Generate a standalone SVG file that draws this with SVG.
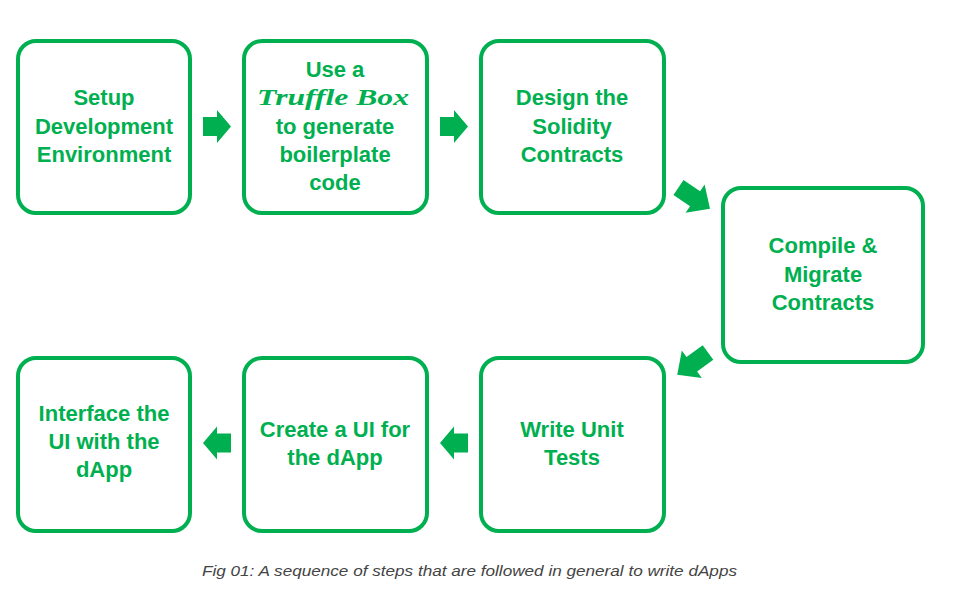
<svg xmlns="http://www.w3.org/2000/svg" width="966" height="599" viewBox="0 0 966 599">
<style>
.box{fill:#fff;stroke:#00B050;stroke-width:4}
.t{font-family:"Liberation Sans",Arial,sans-serif;font-weight:bold;font-size:22px;fill:#00B050;text-anchor:middle}
.m{font-family:"Liberation Serif","DejaVu Serif",serif;font-style:italic;font-weight:bold;font-size:24px;fill:#00B050;text-anchor:middle}
.arr{fill:#00B050}
.cap{font-family:"Liberation Sans",Arial,sans-serif;font-style:italic;font-size:15px;fill:#444}
</style>
<defs>
<path id="ah" d="M0,-9.5 H14 V-16.5 L28,0 L14,16.5 V9.5 H0 Z"/>
<path id="ad" d="M0,-9 H20 V-17 L38,0 L20,17 V9 H0 Z"/>
</defs>
<rect width="966" height="599" fill="#fff"/>
<g id="n1"><rect class="box" x="18" y="41" width="172" height="172" rx="18"/>
<text class="t" x="104" y="105">Setup</text><text class="t" x="104" y="134">Development</text><text class="t" x="104" y="162">Environment</text></g>
<g id="n2"><rect class="box" x="244" y="41" width="183" height="172" rx="18"/>
<text class="t" x="335" y="77">Use a</text><text class="m" x="333" y="105" textLength="152" lengthAdjust="spacingAndGlyphs">Truffle Box</text><text class="t" x="335" y="134">to generate</text><text class="t" x="335" y="162">boilerplate</text><text class="t" x="335" y="190">code</text></g>
<g id="n3"><rect class="box" x="481" y="41" width="183" height="172" rx="18"/>
<text class="t" x="572" y="105">Design the</text><text class="t" x="572" y="134">Solidity</text><text class="t" x="572" y="162">Contracts</text></g>
<g id="n4"><rect class="box" x="723" y="188" width="200" height="174" rx="18"/>
<text class="t" x="823" y="253">Compile &amp;</text><text class="t" x="823" y="282">Migrate</text><text class="t" x="823" y="310">Contracts</text></g>
<g id="n5"><rect class="box" x="481" y="358" width="183" height="173" rx="18"/>
<text class="t" x="572" y="437">Write Unit</text><text class="t" x="572" y="465">Tests</text></g>
<g id="n6"><rect class="box" x="244" y="358" width="183" height="173" rx="18"/>
<text class="t" x="335" y="437">Create a UI for</text><text class="t" x="335" y="465">the dApp</text></g>
<g id="n7"><rect class="box" x="18" y="358" width="172" height="173" rx="18"/>
<text class="t" x="104" y="421">Interface the</text><text class="t" x="104" y="449">UI with the</text><text class="t" x="104" y="477">dApp</text></g>
<g id="connectors" class="arr">
<use href="#ah" transform="translate(203,126.5)"/>
<use href="#ah" transform="translate(440,126.5)"/>
<use href="#ad" transform="translate(678.5,187.5) rotate(34)"/>
<use href="#ad" transform="translate(708,352.5) rotate(144)"/>
<use href="#ah" transform="translate(468,443) rotate(180)"/>
<use href="#ah" transform="translate(231,443) rotate(180)"/>
</g>
<text class="cap" x="202" y="576" textLength="535" lengthAdjust="spacingAndGlyphs">Fig 01: A sequence of steps that are followed in general to write dApps</text>
</svg>
